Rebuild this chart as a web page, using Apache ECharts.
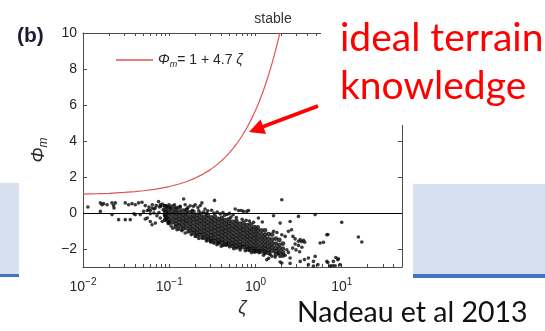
<!DOCTYPE html>
<html><head><meta charset="utf-8">
<script src="https://cdn.jsdelivr.net/npm/echarts@6/dist/echarts.min.js"></script>
<style>html,body{margin:0;padding:0;background:#fff}#c{width:545px;height:331px}</style>
</head><body><div id="c"></div>
<script>
// ---- data ----
const xTickValues = [0.01,0.02,0.03,0.04,0.05,0.06,0.07,0.08,0.09,0.1,0.2,0.3,0.4,0.5,0.6,0.7,0.8,0.9,1,2,3,4,5,6,7,8,9,10,20,30,40];
const xLabelValues = [0.01,0.1,1,10];
const yTickValues = [-2,0,2,4,6,8,10];

// curve Phi_m = 1 + 4.7 zeta (values typed)
const curveZeta = [0.01,0.015,0.02,0.03,0.04,0.05,0.07,0.1,0.13,0.16,0.2,0.25,0.3,0.35,0.4,0.45,0.5,0.55,0.6,0.65,0.7,0.8,0.9,1.0,1.1,1.2,1.3,1.4,1.5,1.6,1.7,1.8,1.915];
const curvePhi  = [1.047,1.071,1.094,1.141,1.188,1.235,1.329,1.47,1.611,1.752,1.94,2.175,2.41,2.645,2.88,3.115,3.35,3.585,3.82,4.055,4.29,4.76,5.23,5.7,6.17,6.64,7.11,7.58,8.05,8.52,8.99,9.46,10.0];

// scattered observations
const pointsLeft = [
 [0.0114,0.33],[0.0159,0.56],[0.0166,0.46],[0.0173,0.52],[0.0190,0.46],[0.0159,0.09],
 [0.0217,0.56],[0.0226,0.41],[0.0237,0.56],[0.0229,0.28],[0.0217,-0.09],
 [0.0259,-0.37],[0.0309,-0.37],[0.0353,-0.37],
 [0.0309,0.56],[0.0338,0.46],[0.0370,0.52],[0.0404,0.46],[0.0441,0.56],[0.0483,0.60],[0.0527,0.41],
 [0.0390,-0.04],[0.0404,-0.09],[0.0461,-0.09],[0.0504,0.09],[0.0527,-0.33],[0.0556,-0.28],
 [0.0577,0.18],[0.0632,0.28],[0.0688,0.28],[0.0752,0.64],[0.0787,0.46],[0.0632,-0.65],
 [0.0582,0.33],[0.0603,0.14],[0.0636,0.46],[0.0665,0.22],[0.0707,0.41],[0.0770,0.33],[0.0800,0.37],[0.0830,0.50],[0.0880,0.41],[0.0948,0.37],[0.0993,0.46],
 [0.0556,0.14],[0.0603,-0.04],[0.0665,0.0],[0.0760,0.02],[0.0880,-0.09],[0.0948,0.0],
 [0.0603,-0.47],[0.0690,-0.56],[0.0787,-0.28],[0.0830,-0.47],[0.0948,-0.28],[0.0993,-0.47],[0.0720,-0.15],[0.0850,0.18],[0.0910,-0.2],
 [0.0899,-0.37],[0.0986,-0.56]
];
const pointsMid = [
 [0.103,0.28],[0.134,0.37],[0.147,0.78],[0.153,0.46],[0.191,0.37],[0.200,0.46],[0.229,0.41],[0.239,0.56],[0.335,0.70],
 [0.115,0.45],[0.165,0.30],[0.120,0.30],[0.175,0.40],[0.215,0.30],[0.26,0.22],[0.28,0.12],[0.31,0.15],[0.36,0.05],[0.42,0.02],
 [0.582,0.22],[0.636,0.14],[0.683,0.14],[0.726,0.09],[0.83,0.14],[0.794,0.09],[0.50,-0.02],[0.55,-0.1],[0.47,-0.08],
 [0.123,-0.93],[0.153,-1.11],[0.105,-0.72],[0.14,-0.98],[0.18,-1.2],[0.2,-1.3],[0.22,-1.42],
 [0.357,-1.76],[0.373,-1.67],[0.466,-1.76],[0.30,-1.6],[0.40,-1.85],
 [0.665,-2.05],[0.760,-2.1],[0.56,-1.98],[0.9,-2.2],
 [0.16,0.22],[0.185,0.15],[0.22,0.12],[0.25,0.05],[0.27,-0.02],[0.33,0.0],[0.39,-0.05],[0.44,-0.12],[0.52,-0.22],[0.6,-0.25],[0.7,-0.35],[0.78,-0.4],[0.85,-0.45],[0.95,-0.52],
 [0.11,-0.85],[0.13,-0.9],[0.165,-1.05],[0.24,-1.4],[0.27,-1.55],[0.33,-1.68],[0.42,-1.8],[0.5,-1.88],[0.6,-1.95],[0.85,-2.1],[0.98,-2.18]
];
const pointsRight = [
 [2.02,0.74],[1.62,-0.15],[3.15,-0.19],[4.92,-0.09],[1.93,-0.56],[2.52,-0.47],[1.08,-0.28],[1.2,-0.5],
 [2.41,-1.02],[1.62,-1.02],[1.77,-1.08],[2.02,-1.21],[2.21,-1.30],[2.62,-0.93],[2.72,-1.3],
 [2.88,-1.44],[3.30,-1.48],[3.60,-1.52],[3.43,-1.6],[3.15,-1.57],[3.72,-1.62],
 [6.72,-1.21],[5.62,-1.67],[6.14,-1.63],[6.90,-1.2],[10.0,-0.52],[15.6,-1.33],[17.1,-1.61],
 [2.88,-1.72],[3.15,-1.8],[3.45,-1.9],[2.70,-1.95],[2.95,-2.05],[3.25,-2.15],[2.31,-2.04],
 [2.41,-2.19],[2.21,-2.35],[2.52,-2.5],[1.93,-2.41],[1.93,-2.72],[2.52,-2.8],[3.70,-2.59],[4.11,-2.5],[4.92,-2.41],[4.70,-2.69],[6.72,-2.69],[8.01,-2.69],
 [1.29,-2.25],[1.48,-2.3],[1.55,-2.4],[1.69,-2.45],[1.85,-2.28],[1.24,-2.35],[1.42,-2.52],[1.1,-2.2],[1.35,-2.6],
 [8.55,-2.47],[9.16,-2.54],[6.90,-2.75],[7.68,-2.93],[8.39,-2.93],[9.58,-2.87],
 [3.30,-2.69],[4.11,-2.87],[4.70,-2.95],[5.3,-2.87],[7.3,-2.95],[9.0,-2.6],[2.02,-2.78]
];
// dense cloud, columns of readings
const bandZeta = [0.090,0.098,0.108,0.119,0.131,0.144,0.158,0.174,0.191,0.210,0.231,0.254,0.279,0.307,0.338,0.372,0.409,0.450,0.495,0.545,0.600,0.660,0.726,0.799,0.879,0.967,1.06,1.17,1.29,1.42,1.56,1.72,1.89,2.08];
const bandPhi = [
 [0.38,0.17,0.04,-0.16,-0.38],
 [0.27,0.05,-0.15,-0.36,-0.55],
 [0.35,0.13,-0.08,-0.3,-0.52],
 [0.2,0.0,-0.22,-0.41,-0.6,-0.76],
 [0.3,0.06,-0.13,-0.34,-0.54,-0.72],
 [0.13,-0.1,-0.3,-0.49,-0.7,-0.88],
 [0.16,-0.04,-0.24,-0.44,-0.62,-0.84],
 [0.03,-0.2,-0.4,-0.6,-0.8,-0.99],
 [0.06,-0.14,-0.33,-0.54,-0.74,-0.95,-1.12],
 [-0.1,-0.3,-0.5,-0.7,-0.9,-1.09,-1.26],
 [-0.03,-0.24,-0.44,-0.64,-0.85,-1.05,-1.23],
 [-0.2,-0.4,-0.6,-0.8,-1.0,-1.2,-1.38],
 [-0.11,-0.31,-0.52,-0.72,-0.92,-1.12,-1.32,-1.47],
 [-0.25,-0.45,-0.65,-0.85,-1.05,-1.25,-1.44,-1.58],
 [-0.19,-0.4,-0.6,-0.8,-1.0,-1.2,-1.4,-1.56],
 [-0.33,-0.53,-0.73,-0.93,-1.13,-1.33,-1.52,-1.66],
 [-0.27,-0.47,-0.67,-0.87,-1.07,-1.27,-1.47,-1.65],
 [-0.4,-0.6,-0.8,-1.0,-1.2,-1.4,-1.6,-1.76],
 [-0.34,-0.55,-0.75,-0.95,-1.15,-1.35,-1.55,-1.73],
 [-0.49,-0.7,-0.9,-1.1,-1.3,-1.5,-1.69,-1.84],
 [-0.44,-0.64,-0.84,-1.04,-1.24,-1.44,-1.64,-1.82],
 [-0.59,-0.8,-1.0,-1.2,-1.4,-1.6,-1.79,-1.92],
 [-0.54,-0.74,-0.94,-1.14,-1.34,-1.54,-1.74,-1.9],
 [-0.68,-0.9,-1.1,-1.3,-1.5,-1.7,-1.89,-2.02],
 [-0.63,-0.85,-1.05,-1.25,-1.45,-1.65,-1.85,-2.0],
 [-0.79,-1.0,-1.2,-1.4,-1.6,-1.8,-1.99,-2.1],
 [-0.8,-1.0,-1.2,-1.4,-1.6,-1.8,-2.0,-2.12],
 [-0.97,-1.19,-1.4,-1.6,-1.8,-1.99,-2.14],
 [-0.96,-1.2,-1.4,-1.6,-1.8,-2.0,-2.16],
 [-1.17,-1.43,-1.65,-1.86,-2.05,-2.22],
 [-1.2,-1.48,-1.7,-1.9,-2.1],
 [-1.42,-1.7,-1.94,-2.13,-2.3],
 [-1.5,-1.78,-2.0,-2.2],
 [-1.7,-1.98,-2.2,-2.36]
];

// ---- build ----
const curveData = curveZeta.map((z,i)=>[z,curvePhi[i]]);
const bandData = [];
bandZeta.forEach((z,i)=>bandPhi[i].forEach(p=>bandData.push([z,p])));
const sparseData = pointsLeft.concat(pointsMid, pointsRight);

const frame = {color:'#4a4a4a', width:1};
const tickFont = 'Liberation Sans';
const ink = '#262626';
const expText = v => { const e = Math.round(Math.log10(v)); return e < 0 ? '\u2212' + (-e) : String(e); };

const chart = echarts.init(document.getElementById('c'), null, {renderer:'canvas'});
const option = {
  animation:false,
  backgroundColor:'#fff',
  grid:{left:83, right:143, top:33, bottom:64},
  xAxis:[
    {type:'log', logBase:10, min:0.01, max:50, position:'bottom',
     axisLine:{show:true, onZero:false, lineStyle:frame},
     axisTick:{show:true, inside:true, length:3, customValues:xTickValues, lineStyle:frame},
     axisLabel:{show:true, customValues:xLabelValues, margin:10,
       formatter: v => '{b|10}{s|' + expText(v) + '}',
       rich:{b:{fontSize:14, lineHeight:20, fontFamily:tickFont, color:ink},
             s:{fontSize:10, lineHeight:8, verticalAlign:'top', fontFamily:tickFont, color:ink}}},
     splitLine:{show:false}, minorTick:{show:false},
     name:'ζ', nameLocation:'middle', nameGap:29,
     nameTextStyle:{fontSize:18, fontStyle:'italic', fontFamily:tickFont, color:ink}},
    {type:'log', logBase:10, min:0.01, max:50, position:'top',
     axisLine:{show:true, onZero:false, lineStyle:frame},
     axisTick:{show:true, inside:true, length:3, customValues:xTickValues, lineStyle:frame},
     axisLabel:{show:false}, splitLine:{show:false}}
  ],
  yAxis:[
    {type:'value', min:-3, max:10, position:'left',
     axisLine:{show:true, onZero:false, lineStyle:frame},
     axisTick:{show:true, inside:true, length:4, customValues:yTickValues, lineStyle:frame},
     axisLabel:{show:true, customValues:yTickValues, margin:6, fontSize:14, fontFamily:tickFont, color:ink,
       formatter: v => v < 0 ? '\u2212' + (-v) : String(v)},
     splitLine:{show:false},
     name:'{p|Φ}{m|m}', nameLocation:'middle', nameRotate:90, nameGap:30,
     nameTextStyle:{rich:{p:{fontSize:18, lineHeight:22, fontStyle:'italic', fontFamily:tickFont, color:ink},
                          m:{fontSize:12, lineHeight:11, verticalAlign:'bottom', fontStyle:'italic', fontFamily:tickFont, color:ink}}}},
    {type:'value', min:-3, max:10, position:'right',
     axisLine:{show:true, onZero:false, lineStyle:frame},
     axisTick:{show:true, inside:true, length:4, customValues:yTickValues, lineStyle:frame},
     axisLabel:{show:false}, splitLine:{show:false}}
  ],
  legend:{show:true, left:116, top:53, padding:0, itemWidth:37, itemHeight:1.3, itemGap:5, selectedMode:false,
    data:[{name:'fit', icon:'rect'}],
    formatter: () => '{p|Φ}{m|m}{t|= 1 + 4.7 }{p|ζ}',
    textStyle:{rich:{
      p:{fontSize:14, lineHeight:18, fontStyle:'italic', fontFamily:tickFont, color:ink},
      m:{fontSize:9, lineHeight:9, verticalAlign:'bottom', fontStyle:'italic', fontFamily:tickFont, color:ink},
      t:{fontSize:14, lineHeight:18, fontFamily:tickFont, color:ink}}}},
  series:[
    {name:'fit', type:'line', xAxisIndex:0, yAxisIndex:0, data:curveData, symbol:'none', showSymbol:false,
     lineStyle:{color:'#e2544f', width:1.2}, itemStyle:{color:'#e2544f'}, z:3},
    {name:'obs', type:'scatter', xAxisIndex:0, yAxisIndex:0, data:sparseData, symbol:'circle', symbolSize:3.6,
     itemStyle:{color:'#0a0a0a'}, z:2,
     markLine:{silent:true, symbol:['none','none'], label:{show:false}, data:[{yAxis:0}],
       lineStyle:{color:'#000', width:1, type:'solid'}}},
    {name:'obsDense', type:'scatter', xAxisIndex:0, yAxisIndex:0, data:bandData, symbol:'circle', symbolSize:4.8,
     itemStyle:{color:'#0a0a0a'}, z:2}
  ],
  graphic:[
    {type:'rect', z:100, shape:{x:0, y:183, width:19, height:91}, style:{fill:'#d6e0f0'}},
    {type:'rect', z:100, shape:{x:0, y:274, width:19, height:3}, style:{fill:'#4472c4'}},
    {type:'rect', z:100, shape:{x:413, y:184, width:132, height:90}, style:{fill:'#d6e0f0'}},
    {type:'rect', z:100, shape:{x:413, y:274, width:132, height:4}, style:{fill:'#4472c4'}},
    {type:'rect', z:100, shape:{x:321, y:0, width:224, height:125}, style:{fill:'#fff'}},
    {type:'text', z:101, x:340, y:38, style:{text:'ideal terrain', font:'39px Lato', fill:'#ff0000', textAlign:'left', align:'left', textVerticalAlign:'middle', verticalAlign:'middle'}},
    {type:'text', z:101, x:340, y:86, style:{text:'knowledge', font:'39px Lato', fill:'#ff0000', textAlign:'left', align:'left', textVerticalAlign:'middle', verticalAlign:'middle'}},
    {type:'line', z:101, shape:{x1:318, y1:106, x2:262, y2:127}, style:{stroke:'#ff0000', lineWidth:4}},
    {type:'polygon', z:101, shape:{points:[[249,132],[260.5,119.5],[266,134]]}, style:{fill:'#ff0000'}},
    {type:'text', z:101, x:297, y:313, style:{text:'Nadeau et al 2013', font:'28.5px Lato', fill:'#111', textAlign:'left', align:'left', textVerticalAlign:'middle', verticalAlign:'middle'}},
    {type:'text', z:101, x:17, y:36, style:{text:'(b)', font:'bold 21px "Liberation Sans"', fill:'#1c1c35', textAlign:'left', align:'left', textVerticalAlign:'middle', verticalAlign:'middle'}},
    {type:'text', z:101, x:273, y:19, style:{text:'stable', font:'14px "Liberation Sans"', fill:'#333', textAlign:'center', align:'center', textVerticalAlign:'middle', verticalAlign:'middle'}}
  ]
};
chart.setOption(option);
</script></body></html>
